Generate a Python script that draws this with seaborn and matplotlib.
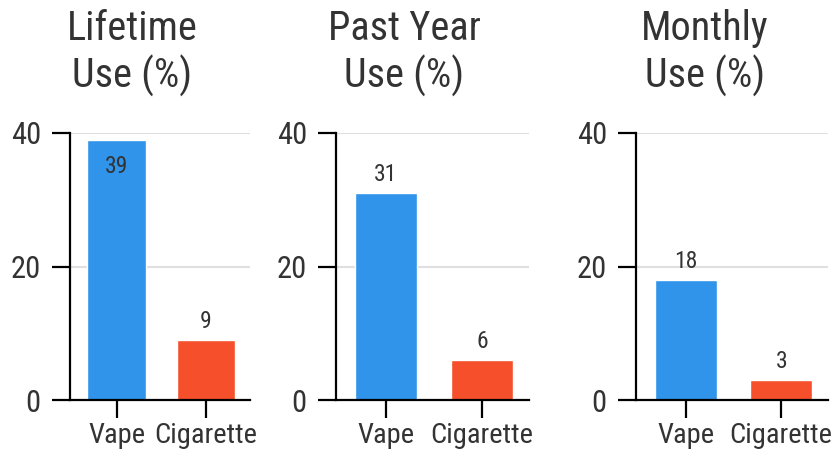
import pandas as pd
import matplotlib.pyplot as plt
import seaborn as sns

# ===== data =====
products = ["Vape", "Cigarette"]
lifetime = [39, 9]
past_year = [31, 6]
monthly = [18, 3]
titles = ["Lifetime\nUse (%)", "Past Year\nUse (%)", "Monthly\nUse (%)"]
y_ticks = [0, 20, 40]

colors = {"Vape": "#3094EA", "Cigarette": "#F5502B"}
text_col = "#333333"

sns.set_style("white")
plt.rcParams["font.family"] = ["Roboto Condensed", "Roboto", "DejaVu Sans"]

fig = plt.figure(figsize=(8.35, 4.51), dpi=100)
W, H = 835, 451
# axes boxes in pixels: left, right
boxes = [(70, 250), (336, 529), (636, 828)]
title_x = [132, 404, 705]
bottom, top = 400, 133

for i, vals in enumerate([lifetime, past_year, monthly]):
    l, r = boxes[i]
    ax = fig.add_axes([l / W, 1 - bottom / H, (r - l) / W, (bottom - top) / H])
    df = pd.DataFrame({"product": products, "value": vals})
    sns.barplot(data=df, x="product", y="value", hue="product", palette=colors,
                width=0.65, saturation=1, legend=False, ax=ax)
    ax.set_xlim(-0.52, 1.49)
    ax.set_ylim(0, 40)
    ax.set_yticks(y_ticks)
    ax.yaxis.grid(True, color="#e0e0e0", linewidth=1.5)
    ax.set_axisbelow(True)
    ax.set_xlabel("")
    ax.set_ylabel("")
    for s in ["top", "right"]:
        ax.spines[s].set_visible(False)
    for s in ["left", "bottom"]:
        ax.spines[s].set_color("black")
        ax.spines[s].set_linewidth(1.6)
    ax.tick_params(axis="both", bottom=True, left=True, length=13, width=1.6,
                   color="black", labelcolor=text_col)
    ax.tick_params(axis="y", pad=8, labelsize=22)
    ax.tick_params(axis="x", pad=3, labelsize=20.5)
    for j, v in enumerate(vals):
        if v > 35:
            ax.annotate(str(v), (j, v), xytext=(0, -11), textcoords="offset points",
                        ha="center", va="top", fontsize=17, color=text_col)
        else:
            ax.annotate(str(v), (j, v), xytext=(0, 5), textcoords="offset points",
                        ha="center", va="bottom", fontsize=17, color=text_col)
    fig.text(title_x[i] / W, 1 - 9 / H, titles[i], ha="center", va="top",
             fontsize=29, color=text_col, linespacing=1.22)

fig.savefig("out.png", dpi=100)
